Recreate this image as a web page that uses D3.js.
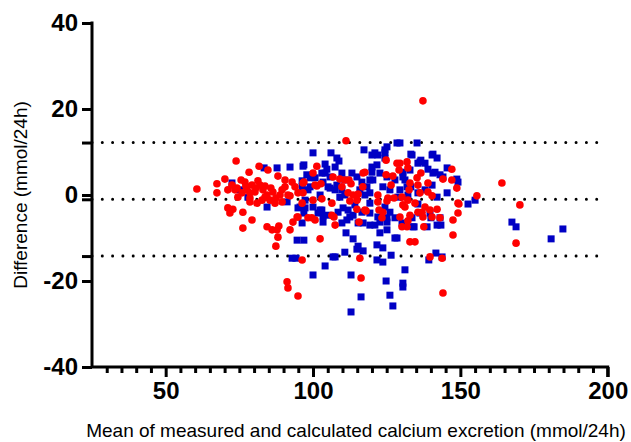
<!DOCTYPE html>
<html>
<head>
<meta charset="utf-8">
<script src="https://cdn.jsdelivr.net/npm/d3@7"></script>
<style>
  body { margin: 0; background: #fff; }
  svg { font-family: "Liberation Sans", Arial, sans-serif; }
</style>
</head>
<body>
<svg id="chart" width="631" height="442"></svg>
<script>
// mean (x) and difference (y)
var redMean = [60.6,67.4,67.4,70.1,73.9,71.1,71.8,72.8,76.2,76.2,79.3,78.3,81.7,84.7,84.4,86.1,87.8,88.4,88.1,87.4,
  92.2,93.2,91.2,91.5,94.9,96.3,102.4,100.0,99.6,100.7,88.1,71.1,76.9,79.3,74.2,75.9,77.6,80.3,82.0,84.4,
  86.4,85.4,82.7,81.0,87.1,89.5,90.5,92.9,90.5,94.9,96.6,96.3,94.9,98.3,83.7,74.5,78.6,72.5,75.6,80.6,
  83.0,88.8,91.5,78.6,111.2,101.3,100.0,96.9,96.6,102.7,101.3,106.8,109.1,112.2,112.9,109.8,117.0,113.6,111.9,115.3,
  112.5,114.9,103.0,106.4,114.9,118.0,106.4,107.1,115.6,122.4,123.7,122.0,125.1,127.5,124.8,127.1,124.8,128.5,126.5,129.5,
  131.9,132.2,129.2,136.6,135.3,132.9,135.6,139.0,144.1,147.1,148.8,132.6,136.3,139.0,140.4,130.2,132.2,134.6,131.2,138.0,
  139.7,137.0,142.1,149.2,149.2,147.5,143.1,132.9,129.5,132.2,130.2,131.9,137.6,147.5,132.9,134.6,139.7,137.3,164.1,155.6,
  170.2,168.9,149.5,147.1,143.8,115.9,116.3,144.1,
  73.5,77.2,81.3,83.7,85.7,89.5,87.4,92.2,93.9,78.6,
  122.0,125.4,130.5,123.4,135.6,137.3,140.4,110.8,100.7,117.6,116.9,117.6,107.5,94.6];
var redDiff = [1.4,2.6,0.5,3.7,7.9,-3.0,-4.2,-3.3,-4.0,-7.7,-5.8,5.3,6.7,5.8,-7.4,-8.1,-8.1,-7.2,-9.8,-11.9,
  -8.1,-6.3,-20.2,-21.6,-23.5,-15.1,-10.2,-1.2,-5.3,-5.8,4.4,1.2,3.0,2.3,1.6,0.5,1.2,0.7,2.3,0.0,
  0.7,-1.2,-1.2,-1.9,-1.9,-1.6,1.9,3.0,3.5,0.5,2.8,-1.9,-5.1,-5.3,-0.5,-0.5,-0.7,2.3,3.5,1.6,
  1.2,0.0,0.0,0.5,12.6,6.7,5.1,3.0,0.5,2.6,2.1,4.2,3.7,3.5,2.6,1.9,5.1,0.0,0.5,0.2,
  -1.4,-1.2,-0.9,-1.9,-3.3,-3.7,-4.7,-5.1,-6.3,-3.5,-4.0,0.0,-1.4,-0.7,4.7,4.4,8.1,7.4,2.3,7.4,
  7.7,6.3,5.8,5.1,4.0,2.8,2.3,2.8,3.7,6.0,1.6,1.2,0.5,0.7,-0.2,-0.5,-1.2,-1.9,-2.8,-2.8,
  -3.5,-4.0,-3.3,-1.9,-4.2,-5.8,-5.3,-4.7,-5.1,-6.0,-7.4,-7.4,-7.4,-9.3,-10.9,-10.9,-14.4,21.9,2.8,-0.2,
  -2.3,-11.2,-2.1,3.5,-14.7,-14.7,-19.3,-22.8,
  1.2,2.1,3.3,2.1,1.6,1.2,-0.7,-0.2,1.9,-1.6,
  -1.6,-0.7,-2.3,-5.3,-4.0,-5.1,-5.1,3.5,2.3,5.3,1.9,-3.5,-7.0,-5.1];

var blueMean = [72.5,87.8,92.2,96.6,100.0,94.6,92.9,94.2,100.0,91.2,96.9,97.3,101.7,97.9,96.3,94.9,84.4,77.9,83.4,75.2,
  106.1,117.3,125.1,128.5,96.9,108.8,122.0,124.4,104.1,107.5,113.2,120.0,119.3,109.1,119.3,118.3,105.8,99.0,97.3,103.4,
  102.4,110.2,112.5,117.0,119.3,122.7,125.1,109.8,122.7,125.1,127.8,111.2,113.6,115.3,117.0,96.9,121.7,123.7,106.8,126.5,
  100.7,110.8,102.4,114.2,107.5,129.5,135.3,133.2,140.7,142.1,136.6,135.6,139.0,140.7,144.1,148.8,149.2,130.5,131.2,133.2,
  128.8,135.6,140.0,143.4,134.3,152.6,155.0,128.5,141.7,143.8,167.5,168.9,180.8,184.8,104.1,107.5,112.9,116.3,112.9,121.7,
  123.7,131.2,124.8,130.5,130.5,126.1,127.1,139.3,110.8,114.9,
  108.1,104.1,104.7,103.0,105.8,109.8,114.9,116.6,103.4,105.1,108.1,109.8,110.8,115.9,117.6,119.3,95.6,100.0,103.0,105.1,
  108.5,111.9,113.6,116.6,119.3,111.5,115.3,103.4,96.3,120.0,99.0,96.3,98.3,
  121.0,124.4,140.4,124.4,121.7,133.6,136.3,138.0,145.5,141.4,143.1,120.0,122.7,125.1,127.8,130.5,132.9,120.3,123.7,126.1,
  129.5,131.9,132.2,135.6,138.0,140.4,142.1,145.5,124.4,126.1,122.0,125.1,127.8,130.2,133.6,136.3,139.7,143.1,121.0,133.9,
  138.7,142.1];
var blueDiff = [2.8,6.3,6.5,6.7,9.8,-10.5,-14.7,-14.7,-18.6,-1.6,-4.2,-1.2,-4.2,4.7,3.3,-3.0,-2.8,-0.5,6.3,1.2,
  9.8,10.5,11.2,12.1,7.0,7.9,9.3,9.8,5.1,6.5,5.1,6.5,3.5,-0.5,0.5,1.9,1.6,1.9,-3.0,-4.9,
  -3.5,-3.0,-5.1,-6.5,-7.0,-6.3,-5.3,-6.5,-8.8,-8.1,-10.0,-8.8,-10.2,-11.9,-13.0,-10.5,-11.6,-12.3,-14.4,-14.0,
  4.0,3.5,0.0,-2.3,1.2,12.1,12.1,9.5,9.5,8.6,8.1,7.4,6.0,5.1,4.2,3.7,3.0,5.3,3.5,1.9,
  -0.5,-2.1,-5.3,-7.0,-7.4,-2.1,-1.2,-10.0,-13.5,-14.4,-6.3,-7.4,-10.2,-7.9,-16.5,-14.4,-18.6,-23.7,-27.2,-15.1,
  -15.6,-17.4,-20.0,-20.5,-21.4,-23.3,-25.8,-15.1,-13.3,-12.6,
  8.6,7.2,6.0,5.1,4.2,5.1,4.2,3.0,3.0,1.9,2.3,1.2,0.0,1.2,0.0,-1.9,-2.8,-2.8,-3.5,-4.7,
  -4.0,-3.5,-4.7,-4.0,-4.2,-5.8,-6.5,-6.3,-6.5,9.3,4.0,1.9,1.2,
  9.8,10.5,9.3,8.6,7.0,9.3,7.7,7.4,6.3,5.3,4.7,5.3,5.1,4.2,3.5,4.2,5.8,3.5,1.9,1.2,
  1.2,1.9,0.0,0.5,1.2,2.3,-0.5,0.5,-2.8,-4.0,-5.1,-6.3,-5.3,-6.5,-5.3,-4.2,-4.2,-5.3,-7.0,-7.4,
  -7.4,-7.0];

// bias and limits of agreement
var refLines = [12.2, -1.0, -14.2];
var yTicks = [40, 20, 0, -20, -40];
var xTicks = [50, 100, 150, 200];

var svg = d3.select('#chart');
var plotLeft = 92, plotRight = 607.7, plotTop = 23, plotBottom = 367;

var x = d3.scaleLinear().domain([25, 200]).range([plotLeft, plotRight]);
var y = d3.scaleLinear().domain([-40, 40]).range([plotBottom, plotTop]);

// dotted lines
svg.append('g').selectAll('line')
    .data(refLines)
    .enter().append('line')
    .attr('x1', x(25)).attr('x2', x(197))
    .attr('y1', function(d){ return y(d); })
    .attr('y2', function(d){ return y(d); })
    .style('stroke', '#000')
    .style('stroke-width', 3)
    .style('stroke-linecap', 'round')
    .style('stroke-dasharray', '0 10.3');

// points, blue first so the red sit on top
var blue = blueMean.map(function(d, i){ return [d, blueDiff[i]]; });
var red = redMean.map(function(d, i){ return [d, redDiff[i]]; });
var sq = 7;
svg.append('g').selectAll('rect')
    .data(blue)
    .enter().append('rect')
    .attr('x', function(d){ return x(d[0]) - sq/2; })
    .attr('y', function(d){ return y(d[1]) - sq/2; })
    .attr('width', sq).attr('height', sq)
    .style('fill', '#0000c4');

svg.append('g').selectAll('circle')
    .data(red)
    .enter().append('circle')
    .attr('cx', function(d){ return x(d[0]); })
    .attr('cy', function(d){ return y(d[1]); })
    .attr('r', 3.8)
    .style('fill', '#ff0000');

// y axis
var yAxis = d3.axisLeft(y).tickValues(yTicks.concat(refLines)).tickSize(10).tickPadding(4)
    .tickFormat(function(d){ return yTicks.indexOf(d) >= 0 ? d : ''; });
var gy = svg.append('g').attr('transform', 'translate(' + plotLeft + ',0)').call(yAxis);

// x axis, minor ticks every 5
var xAxisMinor = d3.axisBottom(x).tickValues(d3.range(30, 200, 5).filter(function(d){ return d % 50 != 0; }))
    .tickSize(6).tickFormat('');
svg.append('g').attr('transform', 'translate(0,' + plotBottom + ')').call(xAxisMinor);
var xAxis = d3.axisBottom(x).tickValues(xTicks).tickSize(10).tickPadding(5);
var gx = svg.append('g').attr('transform', 'translate(0,' + plotBottom + ')').call(xAxis);

svg.selectAll('.domain').remove();
svg.selectAll('.tick line').style('stroke', '#000').style('stroke-width', 3);
svg.selectAll('.tick text')
    .style('font-size', '24px')
    .style('font-weight', 'bold')
    .style('fill', '#000')
    .style('font-family', '"Liberation Sans", Arial, sans-serif');

// axis lines
svg.append('path')
    .attr('d', 'M' + plotLeft + ',' + (plotTop - 1.5) + 'V' + plotBottom + 'H' + plotRight + 'V' + (plotBottom + 10))
    .style('fill', 'none')
    .style('stroke', '#000')
    .style('stroke-width', 3);

// titles
svg.append('text')
    .attr('x', 356).attr('y', 437)
    .attr('text-anchor', 'middle')
    .style('font-size', '19px')
    .text('Mean of measured and calculated calcium excretion (mmol/24h)');

svg.append('text')
    .attr('transform', 'translate(27,195) rotate(-90)')
    .attr('text-anchor', 'middle')
    .style('font-size', '19px')
    .text('Difference (mmol/24h)');
</script>
</body>
</html>
